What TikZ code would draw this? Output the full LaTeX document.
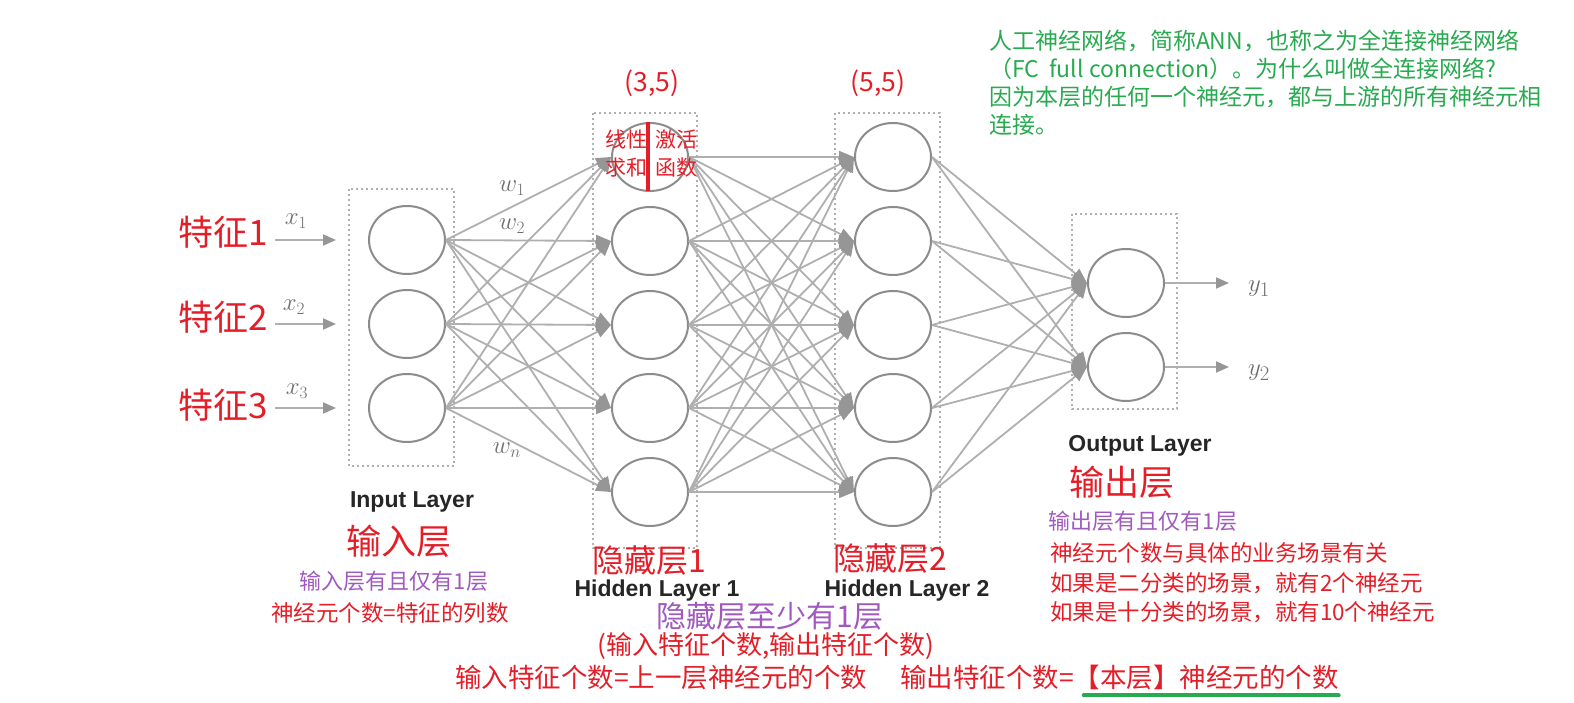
\documentclass[tikz,border=0pt]{standalone}
\usepackage{fontspec}
\setmainfont{Noto Sans CJK SC}
\newfontfamily\helv{Liberation Sans}
\usetikzlibrary{arrows.meta,shapes.geometric}
\definecolor{cred}{RGB}{228,30,40}
\definecolor{cpur}{RGB}{160,90,190}
\definecolor{cgrn}{RGB}{40,170,80}
\definecolor{lgray}{RGB}{175,175,175}
\definecolor{ngray}{RGB}{140,140,140}
\definecolor{agray}{RGB}{150,150,150}
\definecolor{tgray}{RGB}{110,110,110}
\tikzset{
  neuron/.style={ellipse, draw=ngray, line width=2pt, fill=white, minimum width=76pt, minimum height=68pt, inner sep=0pt},
  conn/.style={draw=lgray, line width=1.8pt, -{Triangle[length=15pt,width=12pt,color=agray]}},
  ioarrow/.style={draw=lgray, line width=1.8pt, -{Triangle[length=13pt,width=11pt,color=agray]}},
  layerbox/.style={draw=lgray, line width=2pt, dash pattern=on 2pt off 3pt},
  txt/.style={inner sep=0pt, outer sep=0pt},
  rbig/.style={txt, text=cred, font=\fontsize{35}{40}\selectfont},
  rmid/.style={txt, text=cred, font=\fontsize{26.5}{30}\selectfont},
  rsmall/.style={txt, text=cred, font=\fontsize{22.5}{27}\selectfont},
  pur/.style={txt, text=cpur, font=\fontsize{22}{27}\selectfont},
  grn/.style={txt, text=cgrn, font=\fontsize{23}{27}\selectfont},
  boldlab/.style={txt, text=black!85, font=\helv\bfseries\fontsize{23}{27}\selectfont},
  mathlab/.style={txt, text=tgray, font=\fontsize{26}{30}\selectfont},
}
\begin{document}
\begin{tikzpicture}[x=1pt,y=-1pt]
\useasboundingbox (0,0) rectangle (1574,703);

% layer boxes
\draw[layerbox] (349,189) rectangle (454,466);
\draw[layerbox] (593,113) rectangle (697,548);
\draw[layerbox] (835,113) rectangle (940,548);
\draw[layerbox] (1072,214) rectangle (1177,409);

% neurons
\foreach \k/\yy in {1/240,2/324,3/408} \node[neuron] (in\k) at (407,\yy) {};
\foreach \k/\yy in {1/157,2/241,3/325,4/408,5/492} {
  \node[neuron] (ha\k) at (650,\yy) {};
  \node[neuron] (hb\k) at (893,\yy) {};
}
\node[neuron] (out1) at (1126,283) {};
\node[neuron] (out2) at (1126,367) {};

% connections
\foreach \i in {1,2,3} \foreach \j in {1,...,5} \draw[conn] (in\i.east) -- (ha\j.west);
\foreach \i in {1,...,5} \foreach \j in {1,...,5} \draw[conn] (ha\i.east) -- (hb\j.west);
\foreach \i in {1,...,5} \foreach \j in {1,2} \draw[conn] (hb\i.east) -- (out\j.west);

% input arrows
\foreach \k/\yy in {1/240,2/324,3/408} {
  \coordinate (xs\k) at (275,\yy);
  \coordinate (xe\k) at (336,\yy);
  \draw[ioarrow] (xs\k) -- (xe\k);
}
\node[mathlab] (x1) at (296,221) {$x_1$};
\node[mathlab] (x2) at (294,307) {$x_2$};
\node[mathlab] (x3) at (297,391) {$x_3$};

% output arrows
\coordinate (ye1) at (1229,283);
\coordinate (ye2) at (1229,367);
\draw[ioarrow] (out1.east) -- (ye1);
\draw[ioarrow] (out2.east) -- (ye2);
\node[mathlab, font=\fontsize{30}{34}\selectfont] (y1) at (1259,289) {$y_1$};
\node[mathlab, font=\fontsize{30}{34}\selectfont] (y2) at (1259,373) {$y_2$};

% weights
\node[mathlab] (w1) at (512,188) {$w_1$};
\node[mathlab] (w2) at (512,226) {$w_2$};
\node[mathlab] (wn) at (507,450) {$w_n$};

% features
\node[rbig, anchor=east] (f1) at (268,232) {特征1};
\node[rbig, anchor=east] (f2) at (268,317) {特征2};
\node[rbig, anchor=east] (f3) at (268,405) {特征3};

% top labels
\node[rmid] (c35) at (652,83) {(3,5)};
\node[rmid] (c55) at (878,83) {(5,5)};
\node[rsmall, font=\fontsize{21}{28}\selectfont, align=center] (lin) at (626,154) {线性\\求和};
\node[rsmall, font=\fontsize{21}{28}\selectfont, align=center] (act) at (676,154) {激活\\函数};
\draw[cred, line width=4pt] (648,122) -- (648,191);

% green note
\node[grn, anchor=west] (g1) at (989,41) {人工神经网络，简称ANN，也称之为全连接神经网络};
\node[grn, anchor=west] (g2) at (989,69) {（FC~~full connection）。为什么叫做全连接网络?};
\node[grn, anchor=west] (g3) at (989,97) {因为本层的任何一个神经元，都与上游的所有神经元相};
\node[grn, anchor=west] (g4) at (989,125) {连接。};

% input layer labels
\node[boldlab] (inl) at (412,502) {Input Layer};
\node[rbig] (inz) at (399,541) {输入层};
\node[pur] (inp) at (394,581) {输入层有且仅有1层};
\node[rsmall] (inr) at (390,613) {神经元个数=特征的列数};

% hidden labels
\node[rbig, font=\fontsize{32}{36}\selectfont] (h1z) at (649,560) {隐藏层1};
\node[boldlab] (h1l) at (657,591) {Hidden Layer 1};
\node[rbig, font=\fontsize{32}{36}\selectfont] (h2z) at (890,558) {隐藏层2};
\node[boldlab] (h2l) at (907,591) {Hidden Layer 2};
\node[pur, font=\fontsize{30}{34}\selectfont] (hp) at (770,616) {隐藏层至少有1层};
\node[rmid, font=\fontsize{26}{30}\selectfont] (hr) at (766,646) {(输入特征个数,输出特征个数)};
\node[rmid, anchor=west] (b1) at (455,677) {输入特征个数=上一层神经元的个数};
\node[rmid, anchor=west] (b2) at (900,677) {输出特征个数=};
\node[rmid, anchor=west] (b3) at (b2.east) {【本层】神经元的个数};
\draw[cgrn, line width=4pt, line cap=round] ([xshift=10pt,yshift=-6pt]b3.south west) -- ([yshift=-6pt]b3.south east);

% output labels
\node[boldlab] (outl) at (1140,446) {Output Layer};
\node[rbig] (outz) at (1122,482) {输出层};
\node[pur] (outp) at (1143,521) {输出层有且仅有1层};
\node[rsmall, anchor=west] (o1) at (1050,553) {神经元个数与具体的业务场景有关};
\node[rsmall, anchor=west] (o2) at (1050,583) {如果是二分类的场景，就有2个神经元};
\node[rsmall, anchor=west] (o3) at (1050,612) {如果是十分类的场景，就有10个神经元};
\end{tikzpicture}
\end{document}
